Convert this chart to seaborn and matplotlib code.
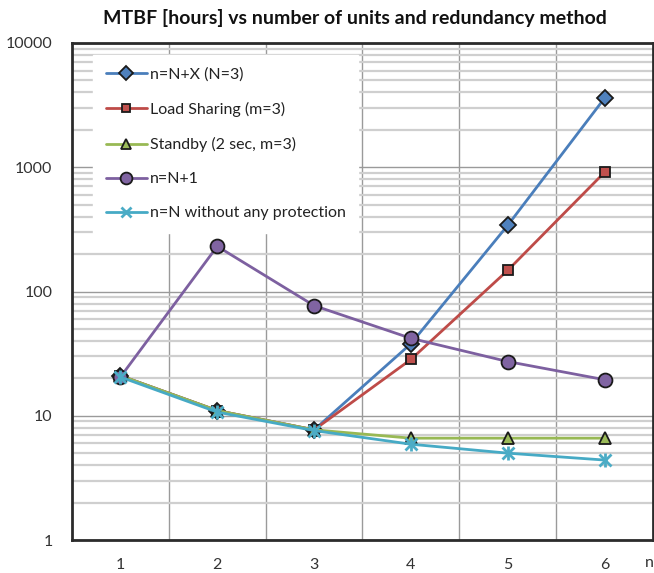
import matplotlib
matplotlib.use("Agg")
import matplotlib.pyplot as plt
import seaborn as sns
import numpy as np
import pandas as pd
from matplotlib.ticker import FixedLocator, FixedFormatter, NullFormatter, LogLocator

# ---- data ----
units = [1, 2, 3, 4, 5, 6]
n_plus_x = [21, 11, 7.7, 38, 341, 3600]
load_sharing = [21, 11, 7.7, 28.4, 148, 911]
standby = [21, 11, 7.7, 6.6, 6.6, 6.6]
n_plus_1 = [20.5, 231, 77, 42, 27.3, 19.5]
no_protection = [20.5, 10.7, 7.6, 5.9, 5.0, 4.4]

series_names = ["n=N+X (N=3)", "Load Sharing (m=3)", "Standby (2 sec, m=3)",
                "n=N+1", "n=N without any protection"]
series_values = [n_plus_x, load_sharing, standby, n_plus_1, no_protection]
y_ticks = [1, 10, 100, 1000, 10000]
y_tick_labels = ["1", "10", "100", "1000", "10000"]
title = "MTBF [hours] vs number of units and redundancy method"
x_label = "n"

# ---- styles ----
line_colors = ["#4A7EBB", "#BE4B48", "#98B954", "#7D60A0", "#46AAC5"]
face_colors = ["#4F81BD", "#C0504D", "#9BBB59", "#8064A2", "#4BACC6"]
markers = ["D", "s", "^", "o", "x"]
msizes = [8, 7, 8.5, 10, 9]

sns.set_theme(style="white")
plt.rcParams["font.family"] = ["Lato", "DejaVu Sans"]

fig = plt.figure(figsize=(6.54, 5.73), dpi=100)
ax = fig.add_axes([72 / 654, 33 / 573, 581 / 654, 497 / 573])

for name, vals, lc, fc, m, ms in zip(series_names, series_values, line_colors,
                                     face_colors, markers, msizes):
    df = pd.DataFrame({"n": units, "MTBF": vals})
    kw = dict(marker=m, markersize=ms, linewidth=2.0, color=lc, label=name)
    if m == "x":
        kw.update(markeredgecolor=fc, markeredgewidth=2.0)
    else:
        kw.update(markerfacecolor=fc, markeredgecolor="#1a1a1a", markeredgewidth=1.3)
    sns.lineplot(data=df, x="n", y="MTBF", ax=ax, **kw)
    if m == "x":
        # asterisk: add a vertical bar on top of the x to create a star
        ax.plot(units, vals, linestyle="none", marker="|", markersize=ms + 1,
                markeredgecolor=fc, markeredgewidth=2.0)

ax.set_yscale("log")
ax.set_ylim(1, 10000)
ax.set_xlim(0.5, 6.5)

ax.yaxis.set_major_locator(FixedLocator(y_ticks))
ax.yaxis.set_major_formatter(FixedFormatter(y_tick_labels))
ax.yaxis.set_minor_locator(LogLocator(base=10, subs=np.arange(2, 10)))
ax.yaxis.set_minor_formatter(NullFormatter())
ax.set_xticks(units)
ax.set_xticklabels([str(u) for u in units])
ax.xaxis.set_minor_locator(FixedLocator([1.5, 2.5, 3.5, 4.5, 5.5]))

ax.grid(which="major", axis="y", color="#9a9a9a", linewidth=1.0)
ax.grid(which="minor", axis="y", color="#cfcfcf", linewidth=1.6)
ax.grid(which="minor", axis="x", color="#9a9a9a", linewidth=1.0)
ax.grid(which="major", axis="x", visible=False)
ax.set_axisbelow(True)

ax.tick_params(which="both", length=0)
ax.tick_params(axis="y", pad=14, labelsize=11.5, labelcolor="#333333")
ax.tick_params(axis="x", pad=13, labelsize=11.5, labelcolor="#333333")
ax.set_xlabel("")
ax.set_ylabel("")

for s in ax.spines.values():
    s.set_color("#2b2b2b")
    s.set_linewidth(2.0)

fig.text(645 / 654, 1 - 563 / 573, x_label, ha="left", va="center",
         fontsize=11.5, color="#333333")
fig.text(355 / 654, 1 - 18 / 573, title, ha="center", va="center",
         fontsize=14, fontweight="bold", color="#111111")

handles, labels = ax.get_legend_handles_labels()
leg = ax.legend(handles[:5], labels[:5], loc="upper left",
                bbox_to_anchor=(0.036, 0.976), borderaxespad=0,
                frameon=True, fancybox=False, framealpha=1.0,
                edgecolor="white", facecolor="white",
                fontsize=11.5, handlelength=2.6, handletextpad=0.15,
                labelspacing=1.25, borderpad=0.8, markerscale=0.85)
leg.set_zorder(1.5)
for t in leg.get_texts():
    t.set_color("#222222")

fig.savefig("out.png", dpi=100)
